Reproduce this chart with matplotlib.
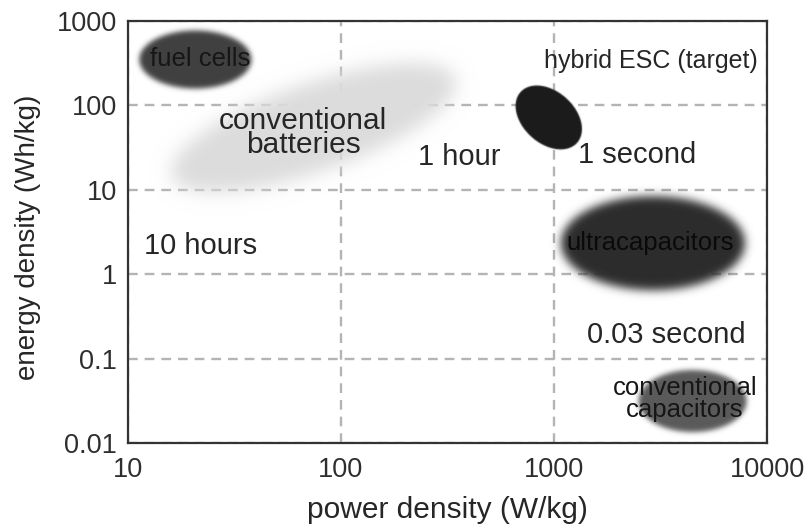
import numpy as np
import matplotlib.pyplot as plt
from matplotlib.colors import LinearSegmentedColormap, to_rgb

plt.rcParams['font.family'] = ['Liberation Sans', 'DejaVu Sans']
plt.rcParams['lines.scale_dashes'] = False

# technologies: centre of each region (W/kg, Wh/kg)
tech = ["fuel cells", "conventional batteries", "hybrid ESC (target)",
        "ultracapacitors", "conventional capacitors"]
tech_power = [20.6, 74, 940, 2900, 4450]
tech_energy = [345, 54, 71, 2.3, 0.031]

# where the names are written
tech_text = ["fuel cells", "conventional\nbatteries", "hybrid ESC (target)",
             "ultracapacitors", "conventional\ncapacitors"]
text_power = [21.8, 66.3, 2850, 2826, 4120]
text_energy = [355, 47.1, 336, 2.34, 0.0332]

# discharge times
regimes = ["10 hours", "1 hour", "1 second", "0.03 second"]
regime_power = [21.8, 358, 2455, 3357]
regime_energy = [2.16, 24.5, 25.8, 0.19]

xticks = [10, 100, 1000, 10000]
xticklabels = ["10", "100", "1000", "10000"]
yticks = [0.01, 0.1, 1, 10, 100, 1000]
yticklabels = ["0.01", "0.1", "1", "10", "100", "1000"]

# blob shapes in pixels: semi-axes, angle, gaussian blur, colour
blob_style = [
    dict(a=56, b=29, angle=0, blur=2.5, color="#404040", size=18.5, tc="#161616"),
    dict(a=150, b=44, angle=19, blur=9, color="#dcdcdc", size=21.5, tc="#262626"),
    dict(a=38, b=26, angle=-42, blur=0.6, color="#1b1b1b", size=18, tc="#262626"),
    dict(a=92, b=47, angle=0, blur=4.5, color="#2c2c2c", size=18.5, tc="#0a0a0a"),
    dict(a=54, b=31, angle=0, blur=2.5, color="#5a5a5a", size=18.5, tc="#161616"),
]

txt_color = "#262626"


def gauss_blur(m, sigma):
    n = int(np.ceil(4 * sigma))
    k = np.exp(-0.5 * (np.arange(-n, n + 1) / sigma) ** 2)
    k /= k.sum()
    m = np.apply_along_axis(lambda v: np.convolve(v, k, mode="same"), 1, m)
    m = np.apply_along_axis(lambda v: np.convolve(v, k, mode="same"), 0, m)
    return m


fig = plt.figure(figsize=(8.09, 5.26), dpi=100)
ax = fig.add_axes([128 / 809, 83 / 526, 639 / 809, 422 / 526])
ax.set_xscale("log")
ax.set_yscale("log")
ax.set_xlim(10, 10000)
ax.set_ylim(0.01, 1000)

# roughly one grid cell per pixel
gx = np.logspace(1, 4, 640)
gy = np.logspace(-2, 3, 423)
X, Y = np.meshgrid(gx, gy)
P = ax.transData.transform(np.column_stack([X.ravel(), Y.ravel()]))
px = P[:, 0].reshape(X.shape)
py = P[:, 1].reshape(X.shape)

for pw, en, st in zip(tech_power, tech_energy, blob_style):
    cx, cy = ax.transData.transform((pw, en))
    th = np.deg2rad(st["angle"])
    du, dv = px - cx, py - cy
    p = du * np.cos(th) + dv * np.sin(th)
    q = -du * np.sin(th) + dv * np.cos(th)
    r = np.sqrt((p / st["a"]) ** 2 + (q / st["b"]) ** 2) + 1e-9
    g = np.sqrt((p / st["a"] ** 2) ** 2 + (q / st["b"] ** 2) ** 2) / r
    d = (r - 1) / np.maximum(g, 1e-9)
    alpha = gauss_blur(np.clip(0.5 - d, 0, 1), st["blur"])
    rgb = to_rgb(st["color"])
    cmap = LinearSegmentedColormap.from_list("b", [rgb + (0.0,), rgb + (1.0,)], N=1024)
    ax.pcolormesh(X, Y, alpha, cmap=cmap, vmin=0, vmax=1, shading="nearest",
                  zorder=2, rasterized=True, antialiased=False)

for s, pw, en, st in zip(tech_text, text_power, text_energy, blob_style):
    ax.text(pw, en, s, ha="center", va="center", fontsize=st["size"],
            color=st["tc"], linespacing=0.85, zorder=5)

for s, pw, en in zip(regimes, regime_power, regime_energy):
    ax.text(pw, en, s, ha="center", va="center", fontsize=21,
            color=txt_color, zorder=5)

ax.set_xticks(xticks)
ax.set_xticklabels(xticklabels)
ax.set_yticks(yticks)
ax.set_yticklabels(yticklabels)
ax.xaxis.set_minor_locator(plt.NullLocator())
ax.yaxis.set_minor_locator(plt.NullLocator())
ax.tick_params(which="both", length=0, labelsize=19.5, labelcolor="#2e2e2e")
ax.tick_params(axis="x", pad=10)
ax.tick_params(axis="y", pad=8)

ax.grid(True, color="#b4b4b4", linestyle=(0, (7, 5)), linewidth=1.7, zorder=0)
ax.set_axisbelow(True)
for sp in ax.spines.values():
    sp.set_color("#333333")
    sp.set_linewidth(1.6)
    sp.set_zorder(6)

ax.set_xlabel("power density (W/kg)", fontsize=21.5, color=txt_color, va="center")
ax.xaxis.set_label_coords(0.5, (16 - 83) / 422)
ax.set_ylabel("energy density (Wh/kg)", fontsize=20, color=txt_color, va="center")
ax.yaxis.set_label_coords((28 - 128) / 639, (526 - 237 - 83) / 422)

fig.savefig("out.png", dpi=100)
